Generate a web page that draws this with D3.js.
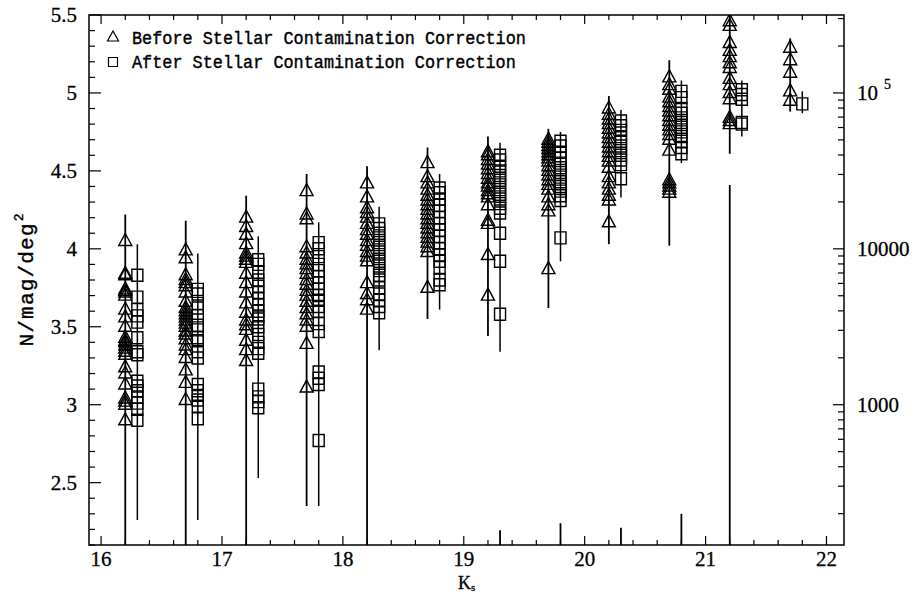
<!DOCTYPE html>
<html><head><meta charset="utf-8">
<script src="https://cdn.jsdelivr.net/npm/d3@7"></script>
<style>
html,body{margin:0;padding:0;background:#fff;}
svg{display:block;}
</style></head>
<body>
<svg id="chart" width="915" height="594"></svg>
<script>
// ---------- DATA ----------
const triX = [16.2, 16.7, 17.2, 17.7, 18.2, 18.7, 19.2, 19.7, 20.2, 20.7, 21.2, 21.7];
const sqX  = [16.3, 16.8, 17.3, 17.8, 18.3, 18.8, 19.3, 19.8, 20.3, 20.8, 21.3, 21.8];

const triValues = [
  [4.05, 3.84, 3.83, 3.74, 3.73, 3.72, 3.70, 3.61, 3.56, 3.50, 3.43, 3.41, 3.40, 3.38, 3.36, 3.34, 3.32, 3.24, 3.20, 3.13, 3.04, 3.02, 3.00, 2.90],
  [3.99, 3.94, 3.83, 3.80, 3.78, 3.76, 3.72, 3.66, 3.62, 3.60, 3.58, 3.56, 3.54, 3.52, 3.50, 3.47, 3.45, 3.42, 3.38, 3.35, 3.30, 3.22, 3.14, 3.03],
  [4.20, 4.14, 4.09, 4.03, 3.97, 3.95, 3.93, 3.91, 3.84, 3.78, 3.72, 3.65, 3.59, 3.54, 3.51, 3.48, 3.41, 3.35, 3.28],
  [4.37, 4.22, 4.19, 4.01, 3.97, 3.93, 3.90, 3.87, 3.84, 3.80, 3.77, 3.73, 3.70, 3.66, 3.62, 3.58, 3.54, 3.50, 3.39, 3.11],
  [4.42, 4.33, 4.26, 4.23, 4.20, 4.16, 4.12, 4.09, 4.05, 4.02, 3.98, 3.95, 3.92, 3.78, 3.71, 3.67, 3.61],
  [4.55, 4.46, 4.42, 4.38, 4.34, 4.31, 4.28, 4.25, 4.22, 4.19, 4.16, 4.13, 4.10, 4.07, 4.04, 4.01, 3.98, 3.75],
  [4.62, 4.60, 4.57, 4.54, 4.51, 4.48, 4.45, 4.42, 4.40, 4.37, 4.35, 4.33, 4.28, 4.18, 4.16, 3.96, 3.70],
  [4.70, 4.68, 4.66, 4.64, 4.62, 4.60, 4.58, 4.56, 4.53, 4.50, 4.47, 4.44, 4.41, 4.38, 4.33, 4.28, 4.24, 3.87],
  [4.90, 4.86, 4.83, 4.80, 4.77, 4.74, 4.71, 4.68, 4.65, 4.62, 4.59, 4.56, 4.52, 4.46, 4.42, 4.38, 4.34, 4.31, 4.17],
  [5.10, 5.05, 5.02, 4.97, 4.94, 4.91, 4.88, 4.85, 4.82, 4.79, 4.76, 4.73, 4.70, 4.63, 4.44, 4.42, 4.40, 4.38, 4.36],
  [5.46, 5.43, 5.32, 5.27, 5.23, 5.19, 5.16, 5.09, 5.05, 5.00, 4.96, 4.84, 4.82, 4.80],
  [5.29, 5.21, 5.13, 5.01, 4.95]
];
const triErrHi = [4.22, 4.18, 4.34, 4.48, 4.53, 4.65, 4.72, 4.77, 4.98, 5.21, 5.50, 5.35];
const triErrLo = [2.10, 2.10, 2.10, 2.35, 2.10, 3.55, 3.44, 3.62, 4.03, 4.02, 4.61, 4.88];

const sqValues = [
  [3.83, 3.69, 3.61, 3.57, 3.53, 3.43, 3.34, 3.32, 3.15, 3.12, 3.09, 3.05, 3.01, 2.97, 2.90],
  [3.74, 3.71, 3.65, 3.62, 3.57, 3.51, 3.48, 3.43, 3.41, 3.34, 3.30, 3.13, 3.09, 3.06, 3.03, 2.99, 2.91],
  [3.93, 3.90, 3.85, 3.80, 3.76, 3.72, 3.68, 3.64, 3.60, 3.57, 3.55, 3.50, 3.45, 3.40, 3.36, 3.33, 3.10, 3.05, 3.02, 2.98],
  [4.04, 4.00, 3.95, 3.90, 3.86, 3.82, 3.78, 3.74, 3.70, 3.67, 3.63, 3.60, 3.52, 3.47, 3.21, 3.17, 3.13, 2.77],
  [4.16, 4.13, 4.10, 4.07, 4.04, 4.01, 3.98, 3.95, 3.92, 3.89, 3.86, 3.83, 3.80, 3.75, 3.71, 3.67, 3.63, 3.59],
  [4.39, 4.36, 4.32, 4.28, 4.24, 4.20, 4.16, 4.12, 4.08, 4.04, 4.00, 3.96, 3.92, 3.88, 3.80, 3.77],
  [4.60, 4.57, 4.53, 4.50, 4.47, 4.44, 4.41, 4.38, 4.35, 4.32, 4.29, 4.26, 4.23, 4.10, 3.92, 3.58],
  [4.69, 4.66, 4.62, 4.58, 4.55, 4.52, 4.49, 4.46, 4.43, 4.40, 4.37, 4.34, 4.31, 4.07],
  [4.82, 4.79, 4.76, 4.72, 4.69, 4.66, 4.63, 4.60, 4.57, 4.54, 4.45],
  [5.01, 4.97, 4.90, 4.87, 4.84, 4.81, 4.78, 4.75, 4.72, 4.69, 4.65, 4.61],
  [5.02, 4.99, 4.96, 4.81, 4.80],
  [4.93]
];
const sqErrHi = [4.03, 3.97, 4.08, 4.17, 4.27, 4.48, 4.68, 4.75, 4.89, 5.08, 5.08, 5.01];
const sqErrLo = [2.26, 2.26, 2.53, 2.35, 3.35, 3.61, 3.34, 3.92, 4.33, 4.55, 4.72, 4.87];

// detached lower error-bar fragments rising from the bottom of the frame
const stubX   = [19.3, 19.8, 20.3, 20.8, 21.2];
const stubTop = [2.195, 2.24, 2.21, 2.30, 4.41];

const xTicks = [16, 17, 18, 19, 20, 21, 22];
const yTicks = [2.5, 3, 3.5, 4, 4.5, 5, 5.5];
const rightTicks = [1000, 10000, 100000];
const rightTickLabels = ["1000", "10000", "10"];
const legendLabels = ["Before Stellar Contamination Correction", "After Stellar Contamination Correction"];

// ---------- LAYOUT ----------
const svg = d3.select("#chart");
const L = 89, R = 844, T = 15, B = 545;
const x = d3.scaleLinear().domain([15.9, 22.145]).range([L, R]);
const y = d3.scaleLinear().domain([2.1, 5.5]).range([B, T]);
const yR = d3.scaleLog().domain([Math.pow(10, 2.1), Math.pow(10, 5.5)]).range([B, T]);

const serif = "'Liberation Serif', 'DejaVu Serif', serif";
const mono = "'Liberation Mono', 'DejaVu Sans Mono', monospace";

svg.append("rect").attr("width", 915).attr("height", 594).attr("fill", "#fff");

svg.append("clipPath").attr("id", "plotclip")
  .append("rect").attr("x", L).attr("y", T).attr("width", R - L).attr("height", B - T);

const plot = svg.append("g").attr("clip-path", "url(#plotclip)");

const triPath = "M0,-7.5 L6.5,4.5 L-6.5,4.5 Z";
const sqPath = "M-5.5,-6 L5.5,-6 L5.5,6 L-5.5,6 Z";

// error bars
function bars(xs, lo, hi, w) {
  plot.append("g").selectAll("line").data(xs).join("line")
    .attr("x1", d => x(d)).attr("x2", d => x(d))
    .attr("y1", (d, i) => y(hi[i])).attr("y2", (d, i) => y(lo[i]))
    .attr("stroke", "#000").attr("stroke-width", w);
}
bars(triX, triErrLo, triErrHi, 1.8);
bars(sqX, sqErrLo, sqErrHi, 1.5);
plot.append("g").selectAll("line").data(stubX).join("line")
  .attr("x1", d => x(d)).attr("x2", d => x(d))
  .attr("y1", (d, i) => y(stubTop[i])).attr("y2", y(2.1))
  .attr("stroke", "#000").attr("stroke-width", 1.8);

// markers
function markers(xs, vals, path) {
  const pts = [];
  xs.forEach((xv, i) => vals[i].forEach(v => pts.push([xv, v])));
  plot.append("g").selectAll("path").data(pts).join("path")
    .attr("d", path)
    .attr("transform", d => `translate(${x(d[0])},${y(d[1])})`)
    .attr("fill", "none").attr("stroke", "#000").attr("stroke-width", 1.4);
}
markers(triX, triValues, triPath);
markers(sqX, sqValues, sqPath);

// ---------- AXES ----------
const frame = svg.append("g").attr("stroke", "#000").attr("fill", "none");
frame.append("rect").attr("x", L).attr("y", T).attr("width", R - L).attr("height", B - T).attr("stroke-width", 1.5);

const xMinor = d3.range(15.8, 22.2, 0.2).map(v => +v.toFixed(1)).filter(v => v > 15.9 && v < 22.145 && !xTicks.includes(v));
const tk = svg.append("g").attr("stroke", "#000").attr("stroke-width", 1.2);
xTicks.forEach(v => {
  tk.append("line").attr("x1", x(v)).attr("x2", x(v)).attr("y1", B).attr("y2", B - 9);
  tk.append("line").attr("x1", x(v)).attr("x2", x(v)).attr("y1", T).attr("y2", T + 9);
});
xMinor.forEach(v => {
  tk.append("line").attr("x1", x(v)).attr("x2", x(v)).attr("y1", B).attr("y2", B - 5);
  tk.append("line").attr("x1", x(v)).attr("x2", x(v)).attr("y1", T).attr("y2", T + 5);
});
const yMinor = d3.range(21, 56, 1).map(v => v / 10).filter(v => !yTicks.includes(v));
yTicks.forEach(v => tk.append("line").attr("x1", L).attr("x2", L + 12).attr("y1", y(v)).attr("y2", y(v)));
yMinor.forEach(v => tk.append("line").attr("x1", L).attr("x2", L + 6).attr("y1", y(v)).attr("y2", y(v)));
const rMinor = [];
[100, 1000, 10000, 100000].forEach(dec => { for (let k = 2; k <= 9; k++) { const v = dec * k; if (v > Math.pow(10, 2.1) && v < Math.pow(10, 5.5)) rMinor.push(v); } });
rightTicks.forEach(v => tk.append("line").attr("x1", R).attr("x2", R - 11).attr("y1", yR(v)).attr("y2", yR(v)));
rMinor.forEach(v => tk.append("line").attr("x1", R).attr("x2", R - 6).attr("y1", yR(v)).attr("y2", yR(v)));

// tick labels
const lbl = svg.append("g").attr("font-family", serif).attr("font-size", 21).attr("fill", "#000")
  .attr("stroke", "#000").attr("stroke-width", 0.3);
xTicks.forEach(v => lbl.append("text").attr("x", x(v)).attr("y", 566).attr("text-anchor", "middle").text(v));
yTicks.forEach(v => lbl.append("text").attr("x", 77).attr("y", y(v) + 7).attr("text-anchor", "end").text(v));
rightTicks.forEach((v, i) => {
  const t = lbl.append("text").attr("x", 857).attr("y", yR(v) + 7).text(rightTickLabels[i]);
  if (v === 100000) t.append("tspan").attr("dx", 6).attr("dy", -11).attr("font-size", 14).text("5");
});

// axis titles
const xt = lbl.append("text").attr("x", 458).attr("y", 589).attr("font-size", 18);
xt.append("tspan").text("K");
xt.append("tspan").attr("dy", 2).attr("font-size", 11).text("s");

const yt = svg.append("text").attr("transform", "translate(33,280) rotate(-90)").attr("text-anchor", "middle")
  .attr("font-family", mono).attr("font-size", 21).attr("fill", "#000").attr("stroke", "#000").attr("stroke-width", 0.4);
yt.append("tspan").attr("letter-spacing", 1.2).text("N/mag/deg");
yt.append("tspan").attr("dx", 1).attr("dy", -10).attr("font-size", 13).text("2");

// ---------- LEGEND ----------
const lg = svg.append("g");
const legRows = [{p: "M0,-6 L5.5,4 L-5.5,4 Z", yy: 37, ty: 44}, {p: "M-4.5,-4.5 L4.5,-4.5 L4.5,4.5 L-4.5,4.5 Z", yy: 62, ty: 68}];
legRows.forEach((r, i) => {
  lg.append("path").attr("d", r.p).attr("transform", `translate(113,${r.yy})`)
    .attr("fill", "none").attr("stroke", "#000").attr("stroke-width", 1.2);
  lg.append("text").attr("x", 132).attr("y", r.ty)
    .attr("font-family", mono).attr("font-size", 18).attr("fill", "#000")
    .attr("stroke", "#000").attr("stroke-width", 0.4)
    .attr("textLength", legendLabels[i].length * 10.1).attr("lengthAdjust", "spacingAndGlyphs")
    .text(legendLabels[i]);
});
</script>
</body></html>
